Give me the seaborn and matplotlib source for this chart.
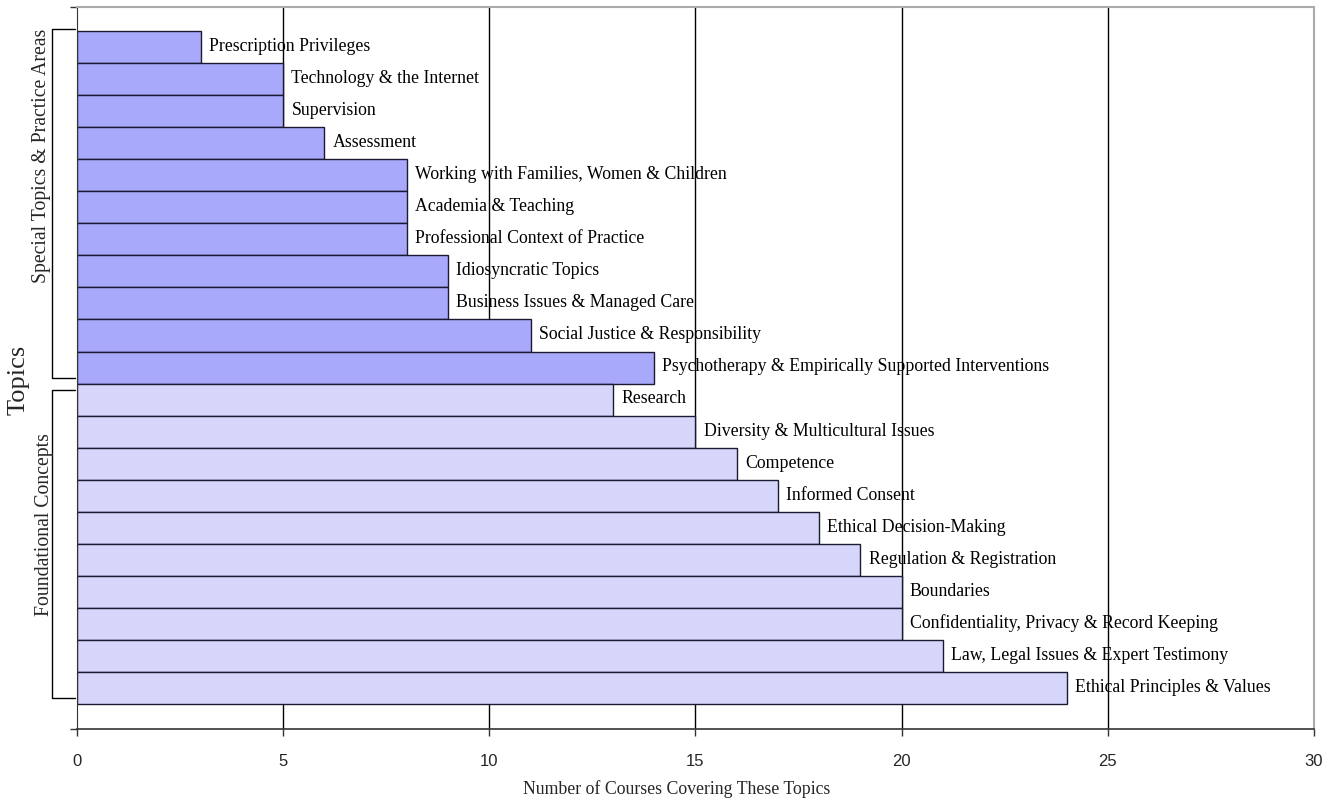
import pandas as pd
import matplotlib.pyplot as plt
import matplotlib.transforms as mtransforms
from matplotlib.lines import Line2D
import seaborn as sns

topics = ["Prescription Privileges", "Technology & the Internet", "Supervision", "Assessment",
          "Working with Families, Women & Children", "Academia & Teaching",
          "Professional Context of Practice", "Idiosyncratic Topics",
          "Business Issues & Managed Care", "Social Justice & Responsibility",
          "Psychotherapy & Empirically Supported Interventions",
          "Research", "Diversity & Multicultural Issues", "Competence", "Informed Consent",
          "Ethical Decision-Making", "Regulation & Registration", "Boundaries",
          "Confidentiality, Privacy & Record Keeping", "Law, Legal Issues & Expert Testimony",
          "Ethical Principles & Values"]
counts = [3, 5, 5, 6, 8, 8, 8, 9, 9, 11, 14,
          13, 15, 16, 17, 18, 19, 20, 20, 21, 24]
groups = ["Special Topics & Practice Areas"] * 11 + ["Foundational Concepts"] * 10
x_ticks = [0, 5, 10, 15, 20, 25, 30]

df = pd.DataFrame({"topic": topics, "count": counts, "group": groups})

sns.set_style("white")
serif = ["Liberation Serif", "DejaVu Serif"]
sans = ["Liberation Sans", "DejaVu Sans"]

fig = plt.figure(figsize=(13.34, 8.03), dpi=100)
ax = fig.add_axes([0.0577, 0.0909, 0.9273, 0.8991])

palette = {"Special Topics & Practice Areas": "#A9A9FC",
           "Foundational Concepts": "#D6D6FB"}
sns.barplot(data=df, y="topic", x="count", hue="group", palette=palette, dodge=False,
            width=1.0, edgecolor="#1a1a33", linewidth=1.0, saturation=1, legend=False, ax=ax)

# labels drawn over the gridlines, as in the original
for i, (t, v) in enumerate(zip(topics, counts)):
    ax.text(v + 0.2, i - 0.05, t, va="center", ha="left", fontsize=12.8, family=serif,
            color="black", zorder=5)

ax.set_xlim(0, 30)
ax.set_ylim(21.28, -1.25)
ax.set_xticks(x_ticks)
ax.set_xticklabels([str(x) for x in x_ticks], fontsize=12, family=sans)
ax.set_yticks([-1.25, 21.28])
ax.set_yticklabels(["", ""])
ax.tick_params(axis="both", direction="out", length=5, width=1, color="#333333", pad=12)
ax.tick_params(axis="x", bottom=True)
ax.tick_params(axis="y", left=True)

for x in x_ticks[1:-1]:
    ax.axvline(x, color="black", lw=1, zorder=0)

for side in ["top", "right"]:
    ax.spines[side].set_color("#aaaaaa")
    ax.spines[side].set_linewidth(1.5)
ax.spines["left"].set_color("#333333")
ax.spines["bottom"].set_color("#333333")
ax.spines["bottom"].set_linewidth(1.2)

ax.set_xlabel("Number of Courses Covering These Topics", fontsize=12.8, family=serif)
ax.xaxis.set_label_coords((677 - 77) / 1237, -0.07)
ax.set_ylabel("")

# group brackets
trans = mtransforms.blended_transform_factory(ax.transAxes, ax.transData)
xl, xr = -0.0202, -0.0016
for y0, y1 in [(-0.56, 10.34), (10.69, 20.31)]:
    ax.add_line(Line2D([xr, xl, xl, xr], [y0, y0, y1, y1], transform=trans,
                       color="black", lw=1, clip_on=False))

fig.text(42 / 1334, 1 - 156 / 803, "Special Topics & Practice Areas", rotation=90,
         ha="center", va="center", fontsize=14.2, family=serif)
fig.text(45 / 1334, 1 - 525 / 803, "Foundational Concepts", rotation=90,
         ha="center", va="center", fontsize=14.2, family=serif)
fig.text(19 / 1334, 1 - 380 / 803, "Topics", rotation=90,
         ha="center", va="center", fontsize=19, family=serif)

fig.savefig("out.png", dpi=100)
